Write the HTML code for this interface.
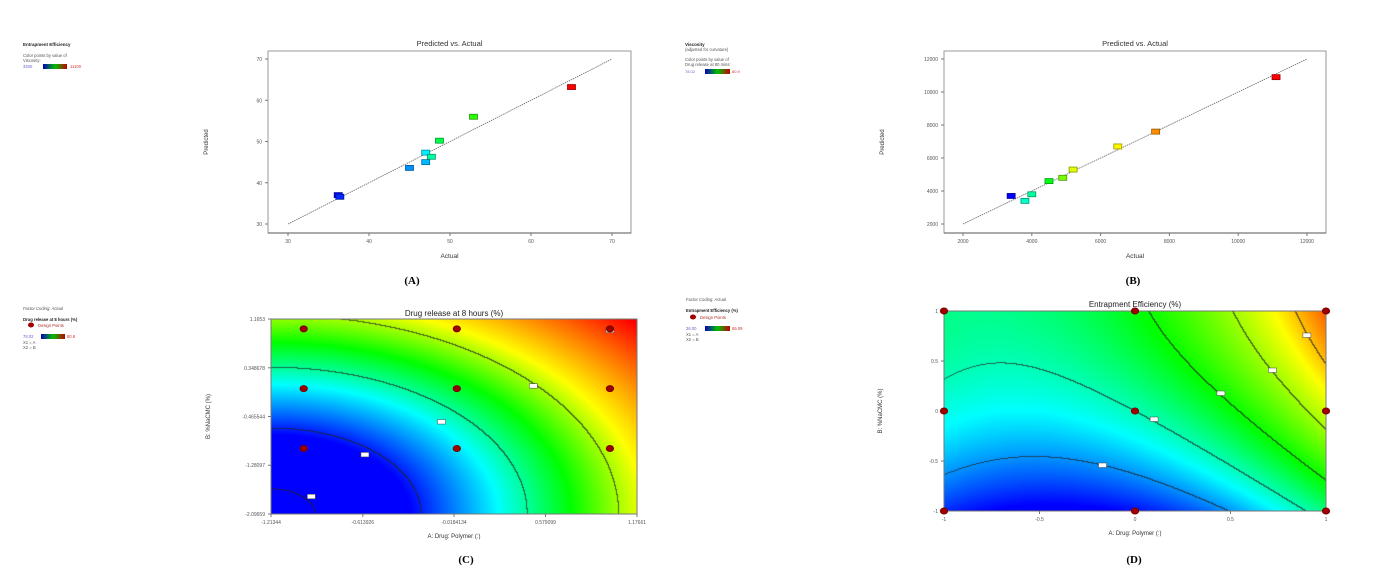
<!DOCTYPE html>
<html><head><meta charset="utf-8"><style>
html,body{margin:0;padding:0;background:#fff;}
#wrap{position:relative;width:1379px;height:583px;overflow:hidden;font-family:"Liberation Sans",sans-serif;}
canvas{position:absolute;}
svg{position:absolute;left:0;top:0;}
</style></head><body>
<div id="wrap">
<canvas id="cvC" width="366" height="195" style="left:271px;top:319px"></canvas>
<canvas id="cvD" width="382" height="200" style="left:944px;top:311px"></canvas>
<svg id="svg" width="1379" height="583" xmlns="http://www.w3.org/2000/svg"></svg>
</div>
<script>
// ---------- data ----------
const actualA=[36.2,36.4,45,47,47,47.7,48.7,52.9,65];
const predictedA=[37,36.6,43.6,45,47.3,46.3,50.2,56,63.2];
const viscA=[3400,3700,4500,4800,5200,6000,6700,7600,11100];
const ticksA=[30,40,50,60,70];
const actualB=[3400,3800,4000,4500,4900,5200,6500,7600,11100];
const predictedB=[3700,3400,3800,4600,4800,5300,6700,7600,10900];
const releaseB=[78.02,78.9,79.0,79.4,79.8,80.1,80.2,80.5,80.9];
const ticksB=[2000,4000,6000,8000,10000,12000];
const ticksCx=[-1.21344,-0.613926,-0.0184134,0.579099,1.17661];
const ticksCxLbl=["-1.21344","-0.613926","-0.0184134","0.579099","1.17661"];
const ticksCy=[1.1653,0.348678,-0.465544,-1.28097,-2.09659];
const ticksCyLbl=["1.1653","0.348678","-0.465544","-1.28097","-2.09659"];
const designX=[-1,-1,-1,0,0,0,1,1,1];
const designY=[-1,0,1,-1,0,1,-1,0,1];
const levelsC=[0.12,0.41,0.7,0.95,1.38];
const colorStopsC=[0.38,0.62,0.82,1.02,1.35];
const labelsCx=[-0.95,-0.6,-0.1,0.5,1.0];
const labelsCy=[-1.8,-1.1,-0.55,0.05,0.98];
const ticksD=[-1,-0.5,0,0.5,1];
const ticksDLbl=["-1","-0.5","0","0.5","1"];
const levelsD=[-0.75,0,0.8,1.6,2.4];
const colorStopsD=[-1.35,-0.3,0.75,2.1,3.3];
const labelsDx=[-0.17,0.1,0.45,0.72,0.9];
const labelsDy=[-0.54,-0.08,0.18,0.41,0.76];

const cmap=[[0,0,255],[0,255,255],[0,255,0],[255,255,0],[255,0,0]];
function colAt(t){t=Math.max(0,Math.min(1,t));const s=t*4;const i=Math.min(3,Math.floor(s));const f=s-i;
 const a=cmap[i],b=cmap[i+1];return [a[0]+(b[0]-a[0])*f,a[1]+(b[1]-a[1])*f,a[2]+(b[2]-a[2])*f];}
function stopT(v,st){if(v<=st[0])return 0;for(let i=0;i<4;i++){if(v<=st[i+1])return (i+(v-st[i])/(st[i+1]-st[i]))/4;}return 1;}
function rgb(c){return `rgb(${c[0]|0},${c[1]|0},${c[2]|0})`;}
function lin(d0,d1,r0,r1){return v=>r0+(v-d0)/(d1-d0)*(r1-r0);}

const NS="http://www.w3.org/2000/svg";
const svg=document.getElementById('svg');
function el(tag,attrs,txt){const e=document.createElementNS(NS,tag);for(const k in attrs)e.setAttribute(k,attrs[k]);if(txt!==undefined)e.textContent=txt;svg.appendChild(e);return e;}

// ---------- models ----------
function fC(u,v){return Math.sqrt(u*u+(v*0.93)*(v*0.93));}
function fD(u,v){return 1.02*u+v+0.83*u*u-0.3*v*v+0.31*u*v;}

function drawMap(id,W,H,f,uv,stops,levels){
 const cv=document.getElementById(id),ctx=cv.getContext('2d');const img=ctx.createImageData(W,H);
 const F=[];for(let j=0;j<=H;j++){F[j]=[];for(let i=0;i<=W;i++){const p=uv(i,j);F[j][i]=f(p[0],p[1]);}}
 for(let j=0;j<H;j++)for(let i=0;i<W;i++){
  const v=F[j][i];let c=colAt(stopT(v,stops));
  for(const L of levels){const a=v-L,b=F[j][i+1]-L,d=F[j+1][i]-L;if((a<0&&b>=0)||(a<0&&d>=0)||(a>=0&&b<0)||(a>=0&&d<0)){c=c.map(x=>x*0.3+25);break;}}
  const k=(j*W+i)*4;img.data[k]=c[0];img.data[k+1]=c[1];img.data[k+2]=c[2];img.data[k+3]=255;}
 ctx.putImageData(img,0,0);
}
drawMap('cvC',366,195,fC,(i,j)=>[i/366,1-j/195],colorStopsC,levelsC);
drawMap('cvD',382,200,fD,(i,j)=>[-1+2*i/382,1-2*j/200],colorStopsD,levelsD);

function txt(x,y,s,size,opt){opt=opt||{};const t=el('text',{x:x,y:y,'font-size':size,'font-family':opt.ff||'"Liberation Sans",sans-serif','text-anchor':opt.anchor||'start',fill:opt.fill||'#333','font-weight':opt.bold?'bold':'normal'},s);
 if(opt.rot)t.setAttribute('transform',`rotate(-90 ${x} ${y})`);if(opt.italic)t.setAttribute('font-style','italic');return t;}

// ---------- scatter panels ----------
function scatterPanel(tag,box,xs,ys,ticks,tickFmt,act,pred,cval,cmin,cmax,capX){
 const g=box;
 let r=el('rect',{x:g.l,y:g.t,width:g.r-g.l,height:g.b-g.t,fill:'none',stroke:'#999','stroke-width':1});
 
 el('line',{x1:g.l,y1:g.b,x2:g.r,y2:g.b,stroke:'#555','stroke-width':1});
 ticks.forEach(t=>{
  el('line',{x1:xs(t),y1:g.b,x2:xs(t),y2:g.b+3,stroke:'#777'});
  let l=txt(xs(t),g.b+10,tickFmt(t),5,{anchor:'middle',fill:'#555'});
  el('line',{x1:g.l-3,y1:ys(t),x2:g.l,y2:ys(t),stroke:'#777'});
  let m=txt(g.l-6,ys(t)+2,tickFmt(t),5,{anchor:'end',fill:'#555'});
 });
 const t0=ticks[0],t1=ticks[ticks.length-1];
 let d=el('line',{x1:xs(t0),y1:ys(t0),x2:xs(t1),y2:ys(t1),stroke:'#666','stroke-width':0.8,'stroke-dasharray':'1.5,0.8'});
 
 for(let i=0;i<act.length;i++){
  const c=colAt((cval[i]-cmin)/(cmax-cmin));
  const p=el('rect',{x:xs(act[i])-4,y:ys(pred[i])-2.5,width:8,height:5,fill:rgb(c),stroke:rgb(c.map(v=>v*0.6)),'stroke-width':0.8});
  
 }
 let ti=txt((g.l+g.r)/2,46,'Predicted vs. Actual',7.5,{anchor:'middle',fill:'#333'});
 let xt=txt((g.l+g.r)/2,258,'Actual',6.5,{anchor:'middle',fill:'#333'});
 let yt=txt(g.l-60,142,'Predicted',6,{anchor:'middle',rot:true,fill:'#333'});
 let cp=txt(capX,284,'('+tag.toUpperCase()+')',11,{anchor:'middle',bold:true,fill:'#000',ff:'"Liberation Serif",serif'});
}
scatterPanel('a',{l:268,r:631,t:51,b:233},lin(30,70,288,612),lin(30,70,224,59),ticksA,t=>String(t),actualA,predictedA,viscA,3400,11100,412);
scatterPanel('b',{l:944,r:1326,t:51,b:233},lin(2000,12000,963,1307),lin(2000,12000,224,59),ticksB,t=>String(t),actualB,predictedB,releaseB,78.02,80.9,1133);

// ---------- contour panels ----------
function contourPanel(tag,box,xs,ys,xt,xl,yt,yl,title,titleY,capX,capY,lx,ly,ytx){
 const g=box;
 let r=el('rect',{x:g.l,y:g.t,width:g.r-g.l,height:g.b-g.t,fill:'none',stroke:'#777','stroke-width':1});
 
 xt.forEach((t,i)=>{el('line',{x1:xs(t),y1:g.b,x2:xs(t),y2:g.b+3,stroke:'#777'});
  let l=txt(xs(t),g.b+10,xl[i],5,{anchor:'middle',fill:'#555'});});
 yt.forEach((t,i)=>{el('line',{x1:g.l-3,y1:ys(t),x2:g.l,y2:ys(t),stroke:'#777'});
  let l=txt(g.l-6,ys(t)+2,yl[i],5,{anchor:'end',fill:'#555'});});
 for(let i=0;i<lx.length;i++){let b=el('rect',{x:xs(lx[i])-4,y:ys(ly[i])-2,width:8,height:4.5,fill:'#fff',stroke:'#444','stroke-width':0.5});
  }
 for(let i=0;i<designX.length;i++){let c=el('ellipse',{cx:xs(designX[i]),cy:ys(designY[i]),rx:3.6,ry:3,fill:'#a00000',stroke:'#700'});
  }
 let ti=txt((g.l+g.r)/2,titleY,title,8,{anchor:'middle',fill:'#222'});
 let x2=txt((g.l+g.r)/2,g.b+24,'A: Drug: Polymer (:)',6,{anchor:'middle',fill:'#333'});
 let y2=txt(ytx,(g.t+g.b)/2,'B: %NaCMC (%)',6,{anchor:'middle',rot:true,fill:'#333'});
 let cp=txt(capX,capY,'('+tag.toUpperCase()+')',11,{anchor:'middle',bold:true,fill:'#000',ff:'"Liberation Serif",serif'});
}
contourPanel('c',{l:271,r:637,t:319,b:514},lin(-1.21344,1.17661,271,637),lin(-2.09659,1.1653,514,319),ticksCx,ticksCxLbl,ticksCy,ticksCyLbl,'Drug release at 8 hours (%)',316,466,563,labelsCx,labelsCy,210);
contourPanel('d',{l:944,r:1326,t:311,b:511},lin(-1,1,944,1326),lin(-1,1,511,311),ticksD,ticksDLbl,ticksD,ticksDLbl,'Entrapment Efficiency (%)',307,1134,563,labelsDx,labelsDy,882);

// ---------- legends ----------
let defs=el('defs',{});
const lg=document.createElementNS(NS,'linearGradient');lg.setAttribute('id','lgbar');
[['0','#0000c0'],['0.5','#00c000'],['1','#c00000']].forEach(s=>{const st=document.createElementNS(NS,'stop');st.setAttribute('offset',s[0]);st.setAttribute('stop-color',s[1]);lg.appendChild(st);});
defs.appendChild(lg);
function bar(x,y,w,name){let b=el('rect',{x:x,y:y-4,width:w,height:5,fill:'url(#lgbar)'});}
txt(23,46,'Entrapment Efficiency',4.5,{bold:true,fill:'#222'});
txt(23,57,'Color points by value of',4.2,{fill:'#555'});
txt(23,62,'Viscosity:',4.2,{fill:'#555'});
txt(23,68,'3400',4.2,{fill:'#66c'});bar(43,68,24,'legend-a-colorbar');txt(70,68,'11100',4.2,{fill:'#c33'});
txt(685,46,'Viscosity',4.5,{bold:true,fill:'#222'});
txt(685,51,'(adjusted for curvature)',4.2,{fill:'#555'});
txt(685,61,'Color points by value of',4.2,{fill:'#555'});
txt(685,66,'Drug release at 80 mins:',4.2,{fill:'#555'});
txt(685,73,'78.02',4,{fill:'#66c'});bar(705,73,25,'legend-b-colorbar');txt(732,73,'80.9',4,{fill:'#c33'});
txt(23,310,'Factor Coding: Actual',4.2,{fill:'#555',italic:true});
txt(23,321,'Drug release at 8 hours (%)',4.2,{bold:true,fill:'#222'});
el('ellipse',{cx:31,cy:325,rx:3,ry:2.5,fill:'#a00000'});txt(38,327,'Design Points',4.2,{fill:'#a33'});
txt(23,338,'78.02',4.2,{fill:'#66c'});bar(41,338,24,'legend-c-colorbar');txt(67,338,'80.9',4.2,{fill:'#c33'});
txt(23,344,'X1 = A',4.2,{fill:'#555'});txt(23,349,'X2 = B',4.2,{fill:'#555'});
txt(686,301,'Factor Coding: Actual',4.2,{fill:'#555'});
txt(686,312,'Entrapment Efficiency (%)',4.2,{bold:true,fill:'#222'});
el('ellipse',{cx:693,cy:317,rx:3,ry:2.5,fill:'#a00000'});txt(700,319,'Design Points',4.2,{fill:'#a33'});
txt(686,330,'36.00',4.2,{fill:'#66c'});bar(705,330,25,'legend-d-colorbar');txt(732,330,'65.09',4.2,{fill:'#c33'});
txt(686,336,'X1 = A',4.2,{fill:'#555'});txt(686,341,'X2 = B',4.2,{fill:'#555'});
</script>
</body></html>
